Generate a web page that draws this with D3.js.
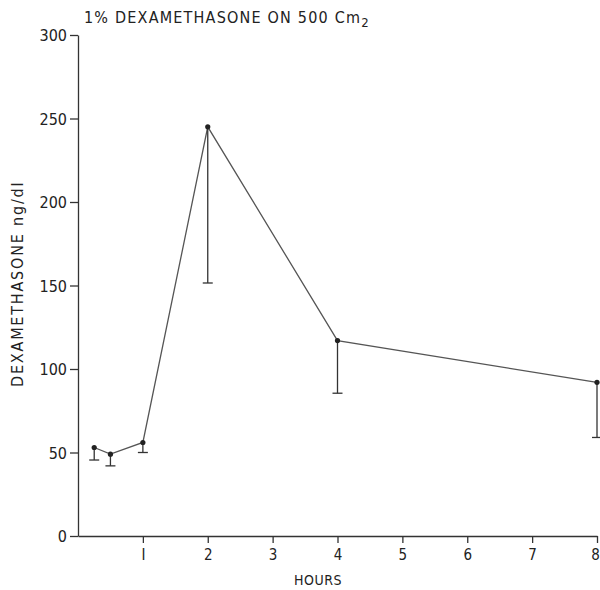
<!DOCTYPE html>
<html>
<head>
<meta charset="utf-8">
<script src="https://cdn.jsdelivr.net/npm/d3@7"></script>
<style>
  body { margin: 0; background: #fff; }
  svg text { font-family: "DejaVu Sans Condensed", "DejaVu Sans", sans-serif; fill: #222; }
</style>
</head>
<body>
<div id="chart"></div>
<script>
// values
const hours = [0.25, 0.5, 1, 2, 4, 8];
const conc = [53, 49, 56, 245, 117, 92];
const lowerErr = [45.5, 42, 50, 151.5, 85.5, 59];
const xTicks = [1, 2, 3, 4, 5, 6, 7, 8];
const yTicks = [0, 50, 100, 150, 200, 250, 300];

const width = 600, height = 590;
const x = d3.scaleLinear().domain([0, 8]).range([78, 597]);
const y = d3.scaleLinear().domain([0, 300]).range([536, 35]);

const svg = d3.select("#chart").append("svg")
    .attr("width", width)
    .attr("height", height);

const ink = "#333";

// y axis
const yAxis = svg.append("g")
    .attr("transform", `translate(${x(0)},0)`)
    .call(d3.axisLeft(y).tickValues(yTicks).tickSize(8).tickPadding(3).tickSizeOuter(0));
yAxis.select(".domain").attr("stroke", ink).attr("stroke-width", 1.3);
yAxis.selectAll(".tick line").attr("stroke", ink).attr("stroke-width", 1.3);
yAxis.selectAll(".tick text").attr("font-size", 16).attr("fill", "#222").attr("dy", "0.35em");

// x axis
const xAxis = svg.append("g")
    .attr("transform", `translate(0,${y(0)})`)
    .call(d3.axisBottom(x).tickValues(xTicks).tickSize(7).tickPadding(6).tickSizeOuter(0));
xAxis.select(".domain").attr("stroke", ink).attr("stroke-width", 1.3);
xAxis.selectAll(".tick line").attr("stroke", ink).attr("stroke-width", 1.3);
xAxis.selectAll(".tick text").attr("font-size", 15).attr("fill", "#222")
    .attr("dx", d => d === 8 ? -2 : 0)
    .text(d => d === 1 ? "I" : d);

// line
const pts = hours.map((h, i) => ({ h, v: conc[i], lo: lowerErr[i] }));
svg.append("path")
    .datum(pts)
    .attr("fill", "none")
    .attr("stroke", "#555")
    .attr("stroke-width", 1.3)
    .attr("d", d3.line().x(d => x(d.h)).y(d => y(d.v)));

// error bars (lower only)
const eb = svg.append("g").attr("stroke", ink).attr("stroke-width", 1.3);
eb.selectAll("line.v").data(pts).join("line")
    .attr("x1", d => x(d.h)).attr("x2", d => x(d.h))
    .attr("y1", d => y(d.v)).attr("y2", d => y(d.lo));
eb.selectAll("line.c").data(pts).join("line")
    .attr("x1", d => x(d.h) - 5).attr("x2", d => x(d.h) + 5)
    .attr("y1", d => y(d.lo)).attr("y2", d => y(d.lo));

svg.append("g").selectAll("circle").data(pts).join("circle")
    .attr("cx", d => x(d.h)).attr("cy", d => y(d.v))
    .attr("r", 2.6).attr("fill", "#222");

// title
const title = svg.append("text")
    .attr("x", 84).attr("y", 23)
    .attr("font-size", 16)
    .attr("letter-spacing", "1.2px");
title.append("tspan").text("1% DEXAMETHASONE ON 500 Cm");
title.append("tspan").attr("font-size", 13).attr("dy", 4).text("2");

// axis labels
svg.append("text")
    .attr("x", x(3.7)).attr("y", 585)
    .attr("text-anchor", "middle")
    .attr("font-size", 14)
    .attr("letter-spacing", "0.5px")
    .text("HOURS");

svg.append("text")
    .attr("transform", `translate(23,${y(151)}) rotate(-90)`)
    .attr("text-anchor", "middle")
    .attr("font-size", 16)
    .attr("letter-spacing", "1.8px")
    .text("DEXAMETHASONE  ng/dl");
</script>
</body>
</html>
